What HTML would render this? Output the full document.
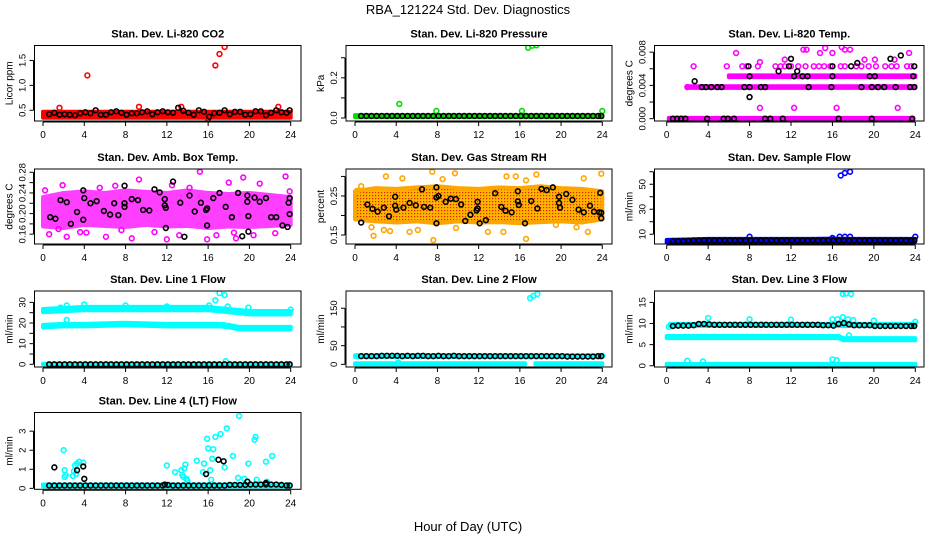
<!DOCTYPE html>
<html><head><meta charset="utf-8"><style>
html,body{margin:0;padding:0;background:#fff;}
svg{display:block;font-family:"Liberation Sans",Arial,sans-serif;}
</style></head><body>
<svg id="c" width="936" height="540" viewBox="0 0 936 540">
<text x="468" y="14" text-anchor="middle" font-size="13">RBA_121224  Std. Dev. Diagnostics</text>
<text x="468" y="531" text-anchor="middle" font-size="13">Hour of Day (UTC)</text>
</svg>
<script>
// ---- data ----
const regHours=[0.6,1.1,1.6,2.1,2.6,3.1,3.6,4.1,4.6,5.1,5.6,6.1,6.6,7.1,7.6,8.1,8.6,9.1,9.6,10.1,10.6,11.1,11.6,12.1,12.6,13.1,13.6,14.1,14.6,15.1,15.6,16.1,16.6,17.1,17.6,18.1,18.6,19.1,19.6,20.1,20.6,21.1,21.6,22.1,22.6,23.1,23.6,23.9];
const co2Black=[0.42,0.45,0.41,0.42,0.41,0.40,0.44,0.46,0.44,0.5,0.41,0.41,0.46,0.48,0.45,0.41,0.44,0.44,0.46,0.48,0.42,0.46,0.48,0.46,0.45,0.55,0.49,0.45,0.41,0.5,0.47,0.37,0.44,0.45,0.5,0.42,0.47,0.47,0.41,0.42,0.48,0.48,0.4,0.45,0.5,0.46,0.45,0.5];
const co2OutH=[1.6,4.3,9.3,13.4,16.0,16.7,17.1,17.6,22.8];
const co2OutV=[0.55,1.2,0.57,0.57,0.33,1.4,1.63,1.77,0.57];
const presBlack=[0.01,0.01,0.01,0.01,0.01,0.01,0.01,0.01,0.01,0.01,0.01,0.01,0.01,0.01,0.01,0.01,0.01,0.01,0.01,0.01,0.01,0.01,0.01,0.01,0.01,0.01,0.01,0.01,0.01,0.01,0.01,0.01,0.01,0.01,0.01,0.01,0.01,0.01,0.01,0.01,0.01,0.01,0.01,0.01,0.01,0.01,0.01,0.01];
const presOutH=[4.3,7.9,16.2,16.8,17.2,17.6,24];
const presOutV=[0.07,0.035,0.035,0.35,0.36,0.362,0.035];
const tempLevelH0=[0.2,2.0,6.0];
const tempLevelH1=[23.8,24,24];
const tempLevelV=[0,0.0038,0.0051];
const tempMagH=[2.6,5.8,7.3,7.7,8.8,10.5,11,11.4,12,12.7,13.4,14.2,14.7,15.2,15.8,16.8,17.2,18.3,18.8,19.5,20.2,21.1,21.7,22.2,23.2,23.6,6.7,13.2,13.5,14.8,15.3,16,16.9,17.2,17.7,23.4,11.4,9,19.1,20.1,22,9,12.3,16.4,22.3,2.0];
const tempMagV=[0.0063,0.0063,0.0063,0.0063,0.0063,0.0063,0.0063,0.0063,0.0063,0.0063,0.0063,0.0063,0.0063,0.0063,0.0063,0.0063,0.0063,0.0063,0.0063,0.0063,0.0063,0.0063,0.0063,0.0063,0.0063,0.0063,0.0079,0.0083,0.0083,0.0079,0.0085,0.0079,0.0086,0.0083,0.0083,0.0079,0.0071,0.0068,0.0071,0.0071,0.0071,0.0013,0.0013,0.0013,0.0013,0.0038];
const tempBlackH=[0.6,1,1.4,1.8,3.9,5.5,5.9,6.5,9.5,10,11.2,16.6,19.8,23.7,3.4,3.8,4.3,4.9,5.3,7.5,8,9.1,9.5,13.7,15.9,18.8,19.8,20.4,21,22.1,23.5,23.9,8,12.3,13.1,13.6,16,19.6,20.1,23.8,7.9,11.8,16,17.8,23.9,2.7,8,12,21.6,22.6,18.4,10.8,12.6];
const tempBlackV=[0,0,0,0,0,0,0,0,0,0,0,0,0,0,0.0038,0.0038,0.0038,0.0038,0.0038,0.0038,0.0038,0.0038,0.0038,0.0038,0.0038,0.0038,0.0038,0.0038,0.0038,0.0038,0.0038,0.0038,0.0051,0.0051,0.0051,0.0051,0.0051,0.0051,0.0051,0.0051,0.0063,0.0063,0.0063,0.0063,0.0063,0.0045,0.0026,0.0072,0.0072,0.0076,0.0067,0.0057,0.0057];
const bandHours=[0,2,4,6,8,10,12,14,16,18,20,22,24];
const ambLo=[0.175,0.172,0.178,0.176,0.174,0.178,0.175,0.176,0.172,0.175,0.174,0.176,0.178];
const ambHi=[0.232,0.24,0.243,0.24,0.245,0.242,0.24,0.245,0.24,0.238,0.24,0.236,0.232];
const ambOutH=[0.2,1.5,1.9,2.3,3.6,5.5,6.1,7,7.6,8.6,9.3,10.8,12,12.5,14.2,15.2,15.9,16.8,18,18.7,19.4,20.4,21,22.5,23.5,23.9,0.6,4.2,13.2,18.5];
const ambOutV=[0.245,0.17,0.255,0.155,0.164,0.25,0.155,0.254,0.168,0.152,0.266,0.164,0.15,0.255,0.25,0.281,0.15,0.158,0.26,0.152,0.27,0.158,0.258,0.162,0.272,0.243,0.16,0.163,0.158,0.163];
const ambBlackH=[0.7,1.2,1.7,2.3,2.7,3.3,3.9,3.9,4,4.6,5.2,5.9,6.5,6.9,7.3,7.9,7.9,7.9,8.6,9.2,9.7,10.3,10.8,11.3,11.8,11.8,11.9,11.9,12.6,13.3,13.7,14.2,14.7,15.3,15.8,15.9,15.9,16.5,17.1,17.7,18.3,18.9,19.3,19.8,19.8,19.9,19.9,20.5,21,21.6,22.1,22.6,23.2,23.7,23.8,23.9,23.9];
const ambBlackV=[0.193,0.19,0.226,0.222,0.18,0.203,0.245,0.188,0.23,0.22,0.224,0.205,0.198,0.22,0.197,0.254,0.22,0.213,0.228,0.226,0.207,0.206,0.247,0.241,0.228,0.216,0.211,0.172,0.262,0.221,0.155,0.235,0.204,0.221,0.207,0.21,0.177,0.23,0.24,0.213,0.193,0.24,0.156,0.235,0.223,0.195,0.165,0.231,0.223,0.23,0.193,0.193,0.177,0.174,0.221,0.23,0.199];
const rhLo=[0.19,0.185,0.182,0.185,0.18,0.185,0.182,0.183,0.18,0.183,0.185,0.182,0.19];
const rhHi=[0.262,0.27,0.268,0.272,0.275,0.27,0.268,0.272,0.27,0.275,0.27,0.268,0.262];
const rhOutH=[0.2,0.6,3,2.8,3.4,3.9,4.6,5.3,6.1,7.5,7.6,9.7,9.8,8.5,12.9,14.7,15.6,16.6,16.6,17.6,19.5,21.5,22.2,22.6,23.9,1.6,1.8,14.4];
const rhOutV=[0.263,0.275,0.3,0.163,0.16,0.21,0.295,0.158,0.163,0.312,0.137,0.308,0.168,0.293,0.158,0.3,0.3,0.14,0.29,0.305,0.176,0.17,0.295,0.158,0.307,0.17,0.148,0.158];
const rhBlackH=[0.6,1.2,1.7,2.2,2.8,3.3,3.9,3.9,4,4.7,5.3,5.9,6.5,6.7,7.3,7.9,7.9,7.9,8.1,8.8,9.3,9.8,10.3,10.7,11.2,11.8,11.9,11.9,12.1,12.7,13.6,14.2,14.6,15.2,15.8,15.8,15.9,16.5,17.1,17.7,18.1,18.6,19.2,19.8,19.8,19.9,20.5,21.1,21.7,22.2,22.8,23.2,23.7,23.8,23.9,23.9];
const rhBlackV=[0.182,0.228,0.217,0.21,0.22,0.198,0.248,0.225,0.215,0.22,0.232,0.226,0.267,0.222,0.22,0.272,0.246,0.18,0.25,0.235,0.243,0.242,0.228,0.186,0.202,0.213,0.218,0.235,0.18,0.188,0.257,0.222,0.212,0.208,0.262,0.236,0.227,0.18,0.237,0.218,0.268,0.265,0.272,0.248,0.232,0.22,0.255,0.24,0.215,0.208,0.225,0.21,0.208,0.258,0.193,0.207];
const flowBlack=[4.5,4.5,4.6,4.8,5,5,5,5,5,5,5,5,5,5,5,5,5,5,5,5,5,5,5,5,5,5,5,5,5,5,5,5,5,5,5,5,5,5,5,5,5,5,5,5,5,5,5,5];
const flowLo=[3.5,3.8,4.2,4.2,4.2,4.2,4.2,4.2,4.2,4.2,4.2,4.2,4.2];
const flowHi=[5.5,5.8,6.3,6.3,6.3,6.3,6.3,6.3,6.5,6.3,6.3,6.3,6.3];
const flowOutH=[8,16,16.7,17.2,17.7,24,16.8,17.2,17.7];
const flowOutV=[8,7,8,8,8,8,57,59,60];
const l1Hours=[0,2,4,8,12,16,17,18,19,20,24];
const l1Upper=[26,26.5,27,27,27,27,26.5,26,25.5,25,25];
const l1Lower=[18.5,19,19,19.5,19,19,19,18.5,17.5,17.5,17.5];
const l1Black=[0,0,0,0,0,0,0,0,0,0,0,0,0,0,0,0,0,0,0,0,0,0,0,0,0,0,0,0,0,0,0,0,0,0,0,0,0,0,0,0,0,0,0,0,0,0,0,0];
const l1OutH=[2.3,2.3,4,8,12,1.7,16.1,16.7,17.1,17.6,17.9,19.9,24,17.5,17.7];
const l1OutV=[21.5,28.5,29,28.5,28,27.5,28.5,31,34.5,33.5,28,27.5,26.5,19,1.5];
const l2Black=[22,22,22,22,23,23,23,23,22,23,22,23,23,22,22,23,22,22,23,22,22,22,22,22,22,22,22,22,22,22,22,22,22,22,22,22,22,22,22,22,21,21,21,21,21,21,22,22];
const l2OutH=[17,17.3,17.7,4.2,0.2,24];
const l2OutV=[177,183,188,5,22,23];
const l3Hours=[0,16.6,17,24];
const l3Mid=[6.8,6.8,6.3,6.3];
const l3Black=[9.4,9.5,9.5,9.5,9.6,9.9,9.9,9.8,9.7,9.7,9.7,9.7,9.7,9.7,9.7,9.7,9.7,9.7,9.7,9.7,9.7,9.7,9.7,9.7,9.7,9.7,9.7,9.7,9.7,9.6,9.6,9.5,9.9,10.1,9.8,9.6,9.6,9.6,9.6,9.4,9.4,9.4,9.4,9.4,9.4,9.4,9.4,9.4];
const l3OutH=[4,8,12,16,16.5,17,17.5,18,20,24,17,17.3,17.8,2,3.5,16,16.4,17.6,0.2];
const l3OutV=[11.3,11,10.9,11,11,11.5,11,10.8,10.7,10.4,17,17.1,17,1.2,1,1.5,1.3,7.2,9.2];
const l4Black=[0.15,0.15,0.15,0.15,0.15,0.15,0.15,0.15,0.15,0.15,0.15,0.15,0.15,0.15,0.15,0.15,0.15,0.15,0.15,0.15,0.15,0.15,0.15,0.18,0.15,0.15,0.15,0.15,0.15,0.15,0.15,0.15,0.15,0.15,0.15,0.18,0.18,0.18,0.18,0.2,0.2,0.2,0.2,0.2,0.2,0.18,0.15,0.15];
const l4OutH=[2,2.1,2.2,2.1,2.9,3,3.1,3.3,3.5,3.9,3.2,12,12.8,13.4,13.5,13.6,13.7,13.8,13.9,14,14.9,15.6,15.5,15.9,16,16.2,16.3,16.5,16.4,16.7,17.2,17.6,17.8,18.4,18.9,19,19.5,19.9,20.5,20.6,20.7,21.6,22.2,21.7];
const l4OutV=[2,0.95,0.7,0.6,0.65,0.9,1.2,1.3,1.4,1.35,0.75,1.2,0.85,0.95,0.7,0.6,1.05,1.25,0.5,0.4,1.45,1.3,0.85,2.6,2.1,0.95,0.45,2.05,1.55,2.7,2.85,1.1,3.15,1.7,0.55,3.8,0.5,1.3,2.55,2.7,0.45,1.4,1.7,0.35];
const l4BlackOutH=[1.1,3.3,3.9,4,11.8,15.8,17,17.5,19.8,21.6];
const l4BlackOutV=[1.1,0.95,1.15,0.5,0.2,0.75,1.5,1.42,0.35,0.28];

// ---- layout ----
const svg=document.getElementById('c');
const NS='http://www.w3.org/2000/svg';
const cols=[{bl:34.5,br:301,x0:43,x24:290.7},{bl:346,br:612,x0:355,x24:602.3},{bl:654.5,br:924,x0:666.7,x24:915.3}];
const rows=[{t:45.5,b:121},{t:169,b:244},{t:291,b:367},{t:412.5,b:489.3}];
function mk(tag,attrs,parent){const e=document.createElementNS(NS,tag);for(const k in attrs)e.setAttribute(k,attrs[k]);(parent||svg).appendChild(e);return e;}

function panel(o){
  const c=cols[o.col],r=rows[o.row];
  const g=mk('g',{});
  
  
  const X=h=>c.x0+(c.x24-c.x0)*h/24;
  const Y=v=>r.b-(v-o.ymin)/(o.ymax-o.ymin)*(r.b-r.t);
  const clip=mk('clipPath',{id:'cl'+o.name},g);
  mk('rect',{x:c.bl,y:r.t,width:c.br-c.bl,height:r.b-r.t},clip);
  const plot=mk('g',{'clip-path':'url(#cl'+o.name+')'},g);
  
  
  o.draw(plot,X,Y);
  const box=mk('rect',{x:c.bl,y:r.t,width:c.br-c.bl,height:r.b-r.t,fill:'none',stroke:'#000','stroke-width':1},g);
  
  
  const tt=mk('text',{x:(c.bl+c.br)/2,y:r.t-8,'text-anchor':'middle','font-size':11,'font-weight':'bold'},g);
  tt.textContent=o.title;
  
  
  const xa=mk('g',{},g);
  
  
  mk('line',{x1:X(0),x2:X(24),y1:r.b+1,y2:r.b+1,stroke:'#000'},xa);
  for(let h=0;h<=24;h+=4){
    mk('line',{x1:X(h),x2:X(h),y1:r.b+1,y2:r.b+5,stroke:'#000'},xa);
    const t=mk('text',{x:X(h),y:r.b+17,'text-anchor':'middle','font-size':10},xa);t.textContent=h;
  }
  const ya=mk('g',{},g);
  
  
  mk('line',{x1:c.bl-1,x2:c.bl-1,y1:Y(o.ticks[0]),y2:Y(o.ticks[o.ticks.length-1]),stroke:'#000'},ya);
  o.ticks.forEach((v,i)=>{
    mk('line',{x1:c.bl-5,x2:c.bl-1,y1:Y(v),y2:Y(v),stroke:'#000'},ya);
    if(o.labels[i]){const t=mk('text',{x:0,y:0,'text-anchor':'middle','font-size':9.5,transform:`translate(${c.bl-9},${Y(v)}) rotate(-90)`},ya);t.textContent=o.labels[i];}
  });
  const yl=mk('text',{x:0,y:0,'text-anchor':'middle','font-size':10,transform:`translate(${c.bl-22},${(r.t+r.b)/2}) rotate(-90)`},g);
  yl.textContent=o.ylab;
  
  
}
function pts(p,X,Y,hs,vs,col,nm){
  hs.forEach((h,i)=>{const e=mk('circle',{cx:X(h),cy:Y(vs[i]),r:2.4,fill:'none',stroke:col,'stroke-width':1.6},p);
    
    });
}
function band(p,X,Y,hs,lo,hi,col,nm,fill,op){
  let d='M'+hs.map((h,i)=>X(h)+','+Y(hi[i])).join('L');
  for(let i=hs.length-1;i>=0;i--)d+='L'+X(hs[i])+','+Y(lo[i]);
  const e=mk('path',{d:d+'Z',fill:fill||col,stroke:col,'stroke-width':4,'stroke-linejoin':'round',opacity:op||1},p);
  
  
}
function shift(arr,d){return arr.map(v=>v+d);}

const defs=mk('defs',{});
const pat=mk('pattern',{id:'rhpat',width:3,height:3,patternUnits:'userSpaceOnUse'},defs);
mk('rect',{width:3,height:3,fill:'#ffb400'},pat);
mk('rect',{width:1.2,height:1.2,fill:'#e02000'},pat);

const RED='#ff0000',GRN='#00e000',MAG='#ff00ff',BLU='#0000ff',CYN='#00ffff',ORG='#ffa500';

panel({name:'co2',title:'Stan. Dev. Li-820 CO2',ylab:'Licor ppm',col:0,row:0,ymin:0.285,ymax:1.8,ticks:[0.5,1.0,1.5],labels:['0.5','1.0','1.5'],
 draw:(p,X,Y)=>{band(p,X,Y,[0,24],[0.35,0.35],[0.47,0.47],RED,'co2-band');pts(p,X,Y,co2OutH,co2OutV,RED,'co2-point');pts(p,X,Y,regHours,co2Black,'#000','co2-black-point');}});
panel({name:'pressure',title:'Stan. Dev. Li-820 Pressure',ylab:'kPa',col:1,row:0,ymin:-0.015,ymax:0.361,ticks:[0,0.1,0.2,0.3],labels:['0.0','','0.2',''],
 draw:(p,X,Y)=>{band(p,X,Y,[0,24],[0.004,0.004],[0.014,0.014],GRN,'pressure-band');pts(p,X,Y,presOutH,presOutV,GRN,'pressure-point');pts(p,X,Y,regHours,presBlack,'#000','pressure-black-point');}});
panel({name:'li820-temp',title:'Stan. Dev. Li-820 Temp.',ylab:'degrees C',col:2,row:0,ymin:-0.00028,ymax:0.0088,ticks:[0,0.002,0.004,0.006,0.008],labels:['0.000','','0.004','','0.008'],
 draw:(p,X,Y)=>{tempLevelV.forEach((v,i)=>band(p,X,Y,[tempLevelH0[i],tempLevelH1[i]],[v-0.0001,v-0.0001],[v+0.0001,v+0.0001],MAG,'temp-level-band'));
  pts(p,X,Y,tempMagH,tempMagV,MAG,'temp-point');pts(p,X,Y,tempBlackH,tempBlackV,'#000','temp-black-point');}});
panel({name:'amb-temp',title:'Stan. Dev. Amb. Box Temp.',ylab:'degrees C',col:0,row:1,ymin:0.141,ymax:0.2864,ticks:[0.16,0.18,0.2,0.22,0.24,0.26,0.28],labels:['0.16','','0.20','','0.24','','0.28'],
 draw:(p,X,Y)=>{band(p,X,Y,bandHours,ambLo,ambHi,MAG,'amb-band',null,0.75);pts(p,X,Y,ambOutH,ambOutV,MAG,'amb-point');pts(p,X,Y,ambBlackH,ambBlackV,'#000','amb-black-point');}});
panel({name:'rh',title:'Stan. Dev. Gas Stream RH',ylab:'percent',col:1,row:1,ymin:0.127,ymax:0.319,ticks:[0.15,0.2,0.25,0.3],labels:['0.15','','0.25',''],
 draw:(p,X,Y)=>{band(p,X,Y,bandHours,rhLo,rhHi,ORG,'rh-band','url(#rhpat)');pts(p,X,Y,rhOutH,rhOutV,ORG,'rh-point');pts(p,X,Y,rhBlackH,rhBlackV,'#000','rh-black-point');}});
panel({name:'sample-flow',title:'Stan. Dev. Sample Flow',ylab:'ml/min',col:2,row:1,ymin:2.2,ymax:62.2,ticks:[10,20,30,40,50,60],labels:['10','','30','','50',''],
 draw:(p,X,Y)=>{band(p,X,Y,bandHours,flowLo,flowHi,BLU,'flow-band');pts(p,X,Y,flowOutH,flowOutV,BLU,'flow-point');pts(p,X,Y,regHours,flowBlack,'#000','flow-black-point');}});
panel({name:'line1',title:'Stan. Dev. Line 1 Flow',ylab:'ml/min',col:0,row:2,ymin:-1.3,ymax:35.5,ticks:[0,5,10,15,20,25,30],labels:['0','','10','','20','','30'],
 draw:(p,X,Y)=>{band(p,X,Y,l1Hours,shift(l1Upper,-0.8),shift(l1Upper,0.8),CYN,'line1-upper-band');band(p,X,Y,l1Hours,shift(l1Lower,-0.6),shift(l1Lower,0.6),CYN,'line1-lower-band');
  band(p,X,Y,[0,24],[0,0],[0.3,0.3],CYN,'line1-zero-band');pts(p,X,Y,l1OutH,l1OutV,CYN,'line1-point');pts(p,X,Y,regHours,l1Black,'#000','line1-black-point');}});
panel({name:'line2',title:'Stan. Dev. Line 2 Flow',ylab:'ml/min',col:1,row:2,ymin:-7,ymax:196,ticks:[0,50,100,150],labels:['0','50','','150'],
 draw:(p,X,Y)=>{band(p,X,Y,[0,16.5],[0,0],[3,3],CYN,'line2-zero-band');band(p,X,Y,[17.5,24],[0,0],[3,3],CYN,'line2-zero-band');
  band(p,X,Y,[0,24],[20,20],[24,24],CYN,'line2-band');pts(p,X,Y,l2OutH,l2OutV,CYN,'line2-point');pts(p,X,Y,regHours,l2Black,'#000','line2-black-point');}});
panel({name:'line3',title:'Stan. Dev. Line 3 Flow',ylab:'ml/min',col:2,row:2,ymin:-0.3,ymax:17.7,ticks:[0,5,10,15],labels:['0','5','10','15'],
 draw:(p,X,Y)=>{band(p,X,Y,[0,24],[0.15,0.15],[0.45,0.45],CYN,'line3-zero-band');band(p,X,Y,l3Hours,shift(l3Mid,-0.25),shift(l3Mid,0.25),CYN,'line3-mid-band');
  band(p,X,Y,[0.3,24],[9.4,9.4],[9.9,9.9],CYN,'line3-upper-band');pts(p,X,Y,l3OutH,l3OutV,CYN,'line3-point');pts(p,X,Y,regHours,l3Black,'#000','line3-black-point');}});
panel({name:'line4',title:'Stan. Dev. Line 4 (LT) Flow',ylab:'ml/min',col:0,row:3,ymin:-0.05,ymax:3.98,ticks:[0,1,2,3],labels:['0','1','2','3'],
 draw:(p,X,Y)=>{band(p,X,Y,[0,24],[0.1,0.1],[0.2,0.2],CYN,'line4-band');pts(p,X,Y,l4OutH,l4OutV,CYN,'line4-point');
  pts(p,X,Y,regHours,l4Black,'#000','line4-black-point');pts(p,X,Y,l4BlackOutH,l4BlackOutV,'#000','line4-black-point');}});
</script>
</body></html>
